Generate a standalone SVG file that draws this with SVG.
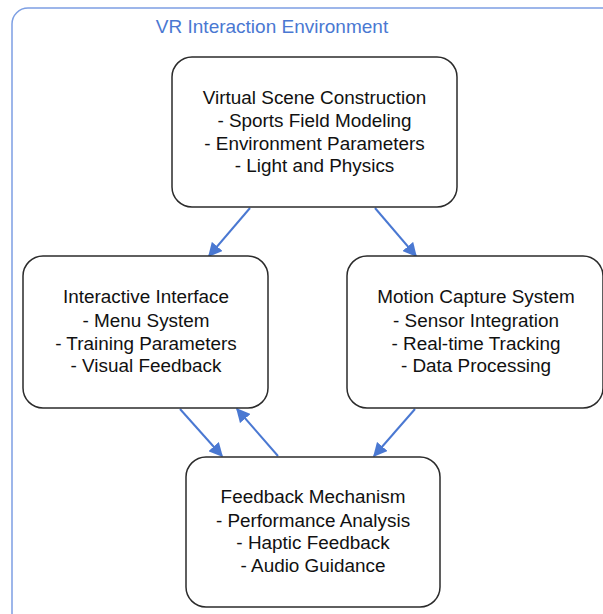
<svg xmlns="http://www.w3.org/2000/svg" width="603" height="614" viewBox="0 0 603 614">
<defs>
<style>
.cont{fill:#fff;stroke:#7d9fe3;stroke-width:1.5}
.title{font-family:"Liberation Sans",Arial,sans-serif;font-size:19px;fill:#4a78d2;text-anchor:middle}
.box{fill:#fff;stroke:#2b2b2b;stroke-width:1.5}
.lbl{font-family:"Liberation Sans",Arial,sans-serif;font-size:18.9px;fill:#111;text-anchor:middle}
.edge{stroke:#4a78d2;stroke-width:2;fill:none;marker-end:url(#ah)}
</style>
<marker id="ah" viewBox="0 0 10 10" refX="9" refY="5" markerWidth="7" markerHeight="7" markerUnits="strokeWidth" orient="auto">
<path d="M0,0 L10,5 L0,10 z" fill="#4a78d2"/>
</marker>
</defs>
<rect width="603" height="614" fill="#fff"/>
<g id="container">
<rect class="cont" x="12" y="8" width="640" height="640" rx="16"/>
<text class="title" x="272" y="33">VR Interaction Environment</text>
</g>
<g id="connectors">
<line class="edge" x1="250" y1="208" x2="209" y2="256"/>
<line class="edge" x1="375" y1="208" x2="416" y2="256"/>
<line class="edge" x1="180" y1="409" x2="222" y2="456"/>
<line class="edge" x1="278" y1="456" x2="237" y2="409"/>
<line class="edge" x1="415" y1="409" x2="374" y2="456"/>
</g>
<g id="scene">
<rect class="box" x="172" y="57" width="285" height="150" rx="20"/>
<text class="lbl" x="314.5" y="104">Virtual Scene Construction</text>
<text class="lbl" x="314.5" y="127">- Sports Field Modeling</text>
<text class="lbl" x="314.5" y="149.5">- Environment Parameters</text>
<text class="lbl" x="314.5" y="172">- Light and Physics</text>
</g>
<g id="interface">
<rect class="box" x="23" y="256" width="245" height="152" rx="20"/>
<text class="lbl" x="146" y="303">Interactive Interface</text>
<text class="lbl" x="146" y="327">- Menu System</text>
<text class="lbl" x="146" y="349.5">- Training Parameters</text>
<text class="lbl" x="146" y="372">- Visual Feedback</text>
</g>
<g id="motion">
<rect class="box" x="347" y="256" width="256" height="152" rx="20"/>
<text class="lbl" x="476" y="303">Motion Capture System</text>
<text class="lbl" x="476" y="327">- Sensor Integration</text>
<text class="lbl" x="476" y="349.5">- Real-time Tracking</text>
<text class="lbl" x="476" y="372">- Data Processing</text>
</g>
<g id="feedback">
<rect class="box" x="186" y="457" width="254" height="150" rx="20"/>
<text class="lbl" x="313" y="503">Feedback Mechanism</text>
<text class="lbl" x="313" y="526.5">- Performance Analysis</text>
<text class="lbl" x="313" y="549">- Haptic Feedback</text>
<text class="lbl" x="313" y="571.5">- Audio Guidance</text>
</g>
</svg>
